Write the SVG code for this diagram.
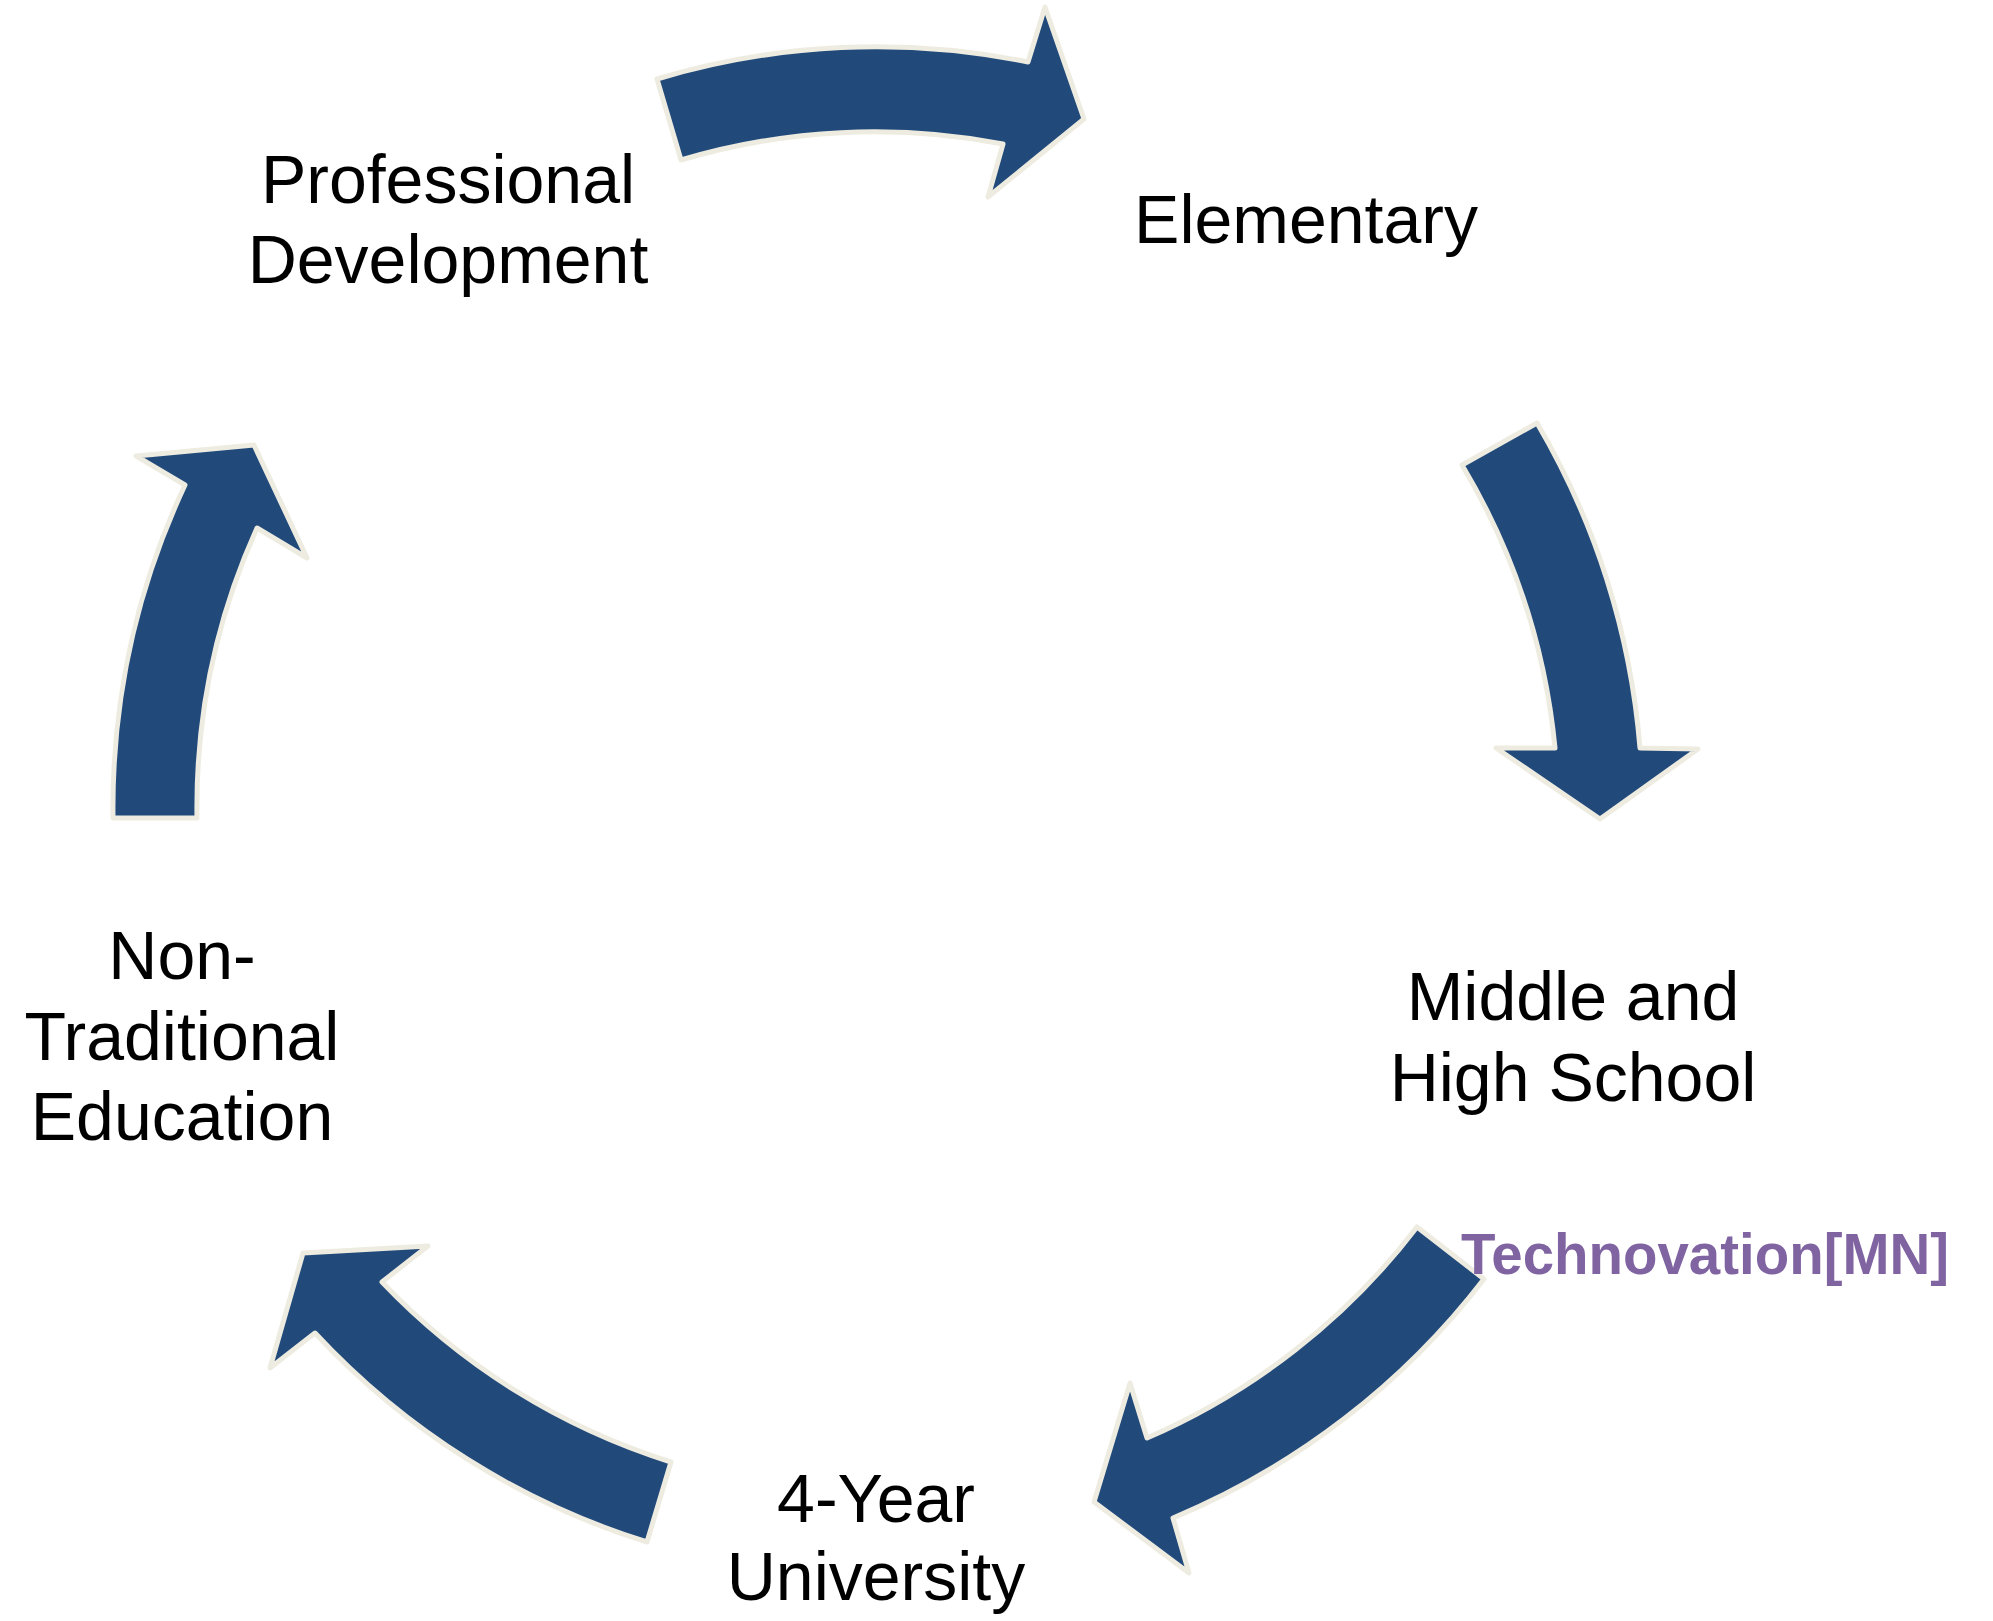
<svg xmlns="http://www.w3.org/2000/svg" width="1993" height="1621" viewBox="0 0 1993 1621">
<style>
.arrow{fill:#214A7B;stroke:#EEECE1;stroke-width:5;stroke-linejoin:round}
.lbl{font-family:"Liberation Sans",Arial,sans-serif;font-size:68px;fill:#000;text-anchor:middle}
.note{font-family:"Liberation Sans",Arial,sans-serif;font-size:57px;font-weight:bold;fill:#8064A2}
</style>
<rect width="1993" height="1621" fill="#FFFFFF"/>
<g id="connectors">
<path id="arrow-pd-elem" class="arrow" d="M657,79 A762,762 0 0 1 1028,62 L1045,7 L1084,119 L988,197 L1003,144 A680,680 0 0 0 681,160 Z"/>
<path id="arrow-elem-mhs" class="arrow" d="M1462,465 L1537,423 A762,762 0 0 1 1640,748 L1698,749 L1600,819 L1496,748 L1555,748 A680,680 0 0 0 1462,465 Z"/>
<path id="arrow-mhs-univ" class="arrow" d="M1417,1227 L1484,1279 A762,762 0 0 1 1173,1518 L1189,1573 L1094,1502 L1130,1383 L1147,1438 A680,680 0 0 0 1417,1227 Z"/>
<path id="arrow-univ-nte" class="arrow" d="M671,1462 L647,1542 A762,762 0 0 1 315,1333 L270,1368 L303,1253 L428,1246 L382,1282 A680,680 0 0 0 671,1462 Z"/>
<path id="arrow-nte-pd" class="arrow" d="M113,818 L197,818 A680,680 0 0 1 257,528 L307,558 L254,445 L136,456 L185,485 A762,762 0 0 0 113,818 Z"/>
</g>
<g id="node-professional-development">
<text class="lbl" x="448" y="203">Professional</text>
<text class="lbl" x="448" y="283">Development</text>
</g>
<g id="node-elementary">
<text class="lbl" x="1306" y="243">Elementary</text>
</g>
<g id="node-middle-high-school">
<text class="lbl" x="1573" y="1020">Middle and</text>
<text class="lbl" x="1573" y="1101">High School</text>
</g>
<g id="node-technovation">
<text class="note" x="1461" y="1274" textLength="488" lengthAdjust="spacingAndGlyphs">Technovation[MN]</text>
</g>
<g id="node-4-year-university">
<text class="lbl" x="876" y="1522">4-Year</text>
<text class="lbl" x="876" y="1600">University</text>
</g>
<g id="node-non-traditional-education">
<text class="lbl" x="182" y="979">Non-</text>
<text class="lbl" x="182" y="1060">Traditional</text>
<text class="lbl" x="182" y="1140">Education</text>
</g>
</svg>
